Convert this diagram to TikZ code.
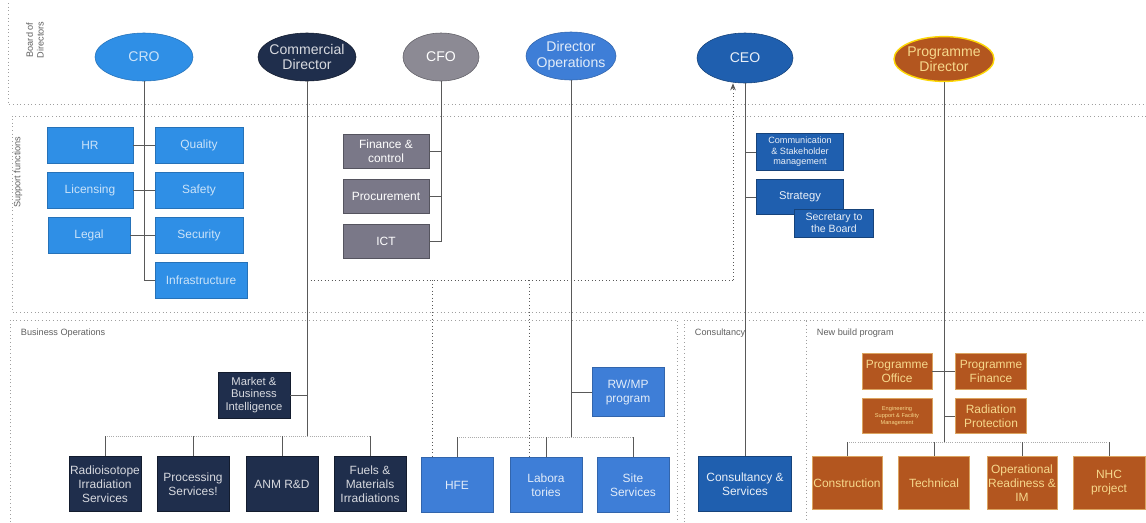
\documentclass[tikz,border=0pt]{standalone}
\usepackage{fontspec}
\setmainfont{Liberation Sans}
\usetikzlibrary{shapes.geometric, arrows.meta}
\definecolor{skyblue}{HTML}{2F8FE6}
\definecolor{navy}{HTML}{1F2E4C}
\definecolor{slate}{HTML}{8C8A94}
\definecolor{slatebox}{HTML}{7A7888}
\definecolor{opsblue}{HTML}{3E7ED7}
\definecolor{ceoblue}{HTML}{1F5FAF}
\definecolor{rust}{HTML}{B3561F}
\definecolor{rustink}{HTML}{F6D88C}
\tikzset{lead/.style = {draw, ellipse, inner xsep = -6pt, inner ysep = -2pt, minimum width = 2.45cm, minimum height = 1.2cm, align = center, font = \fontsize{10}{11}\selectfont}}
\tikzset{unit/.style = {draw, rectangle, inner sep = 0, minimum width = 1.8cm, minimum height = 1.37cm, align = center, font = \fontsize{8.5}{10}\selectfont}}
\tikzset{staff/.style = {unit, minimum width = 2.15cm, minimum height = 0.9cm}}
\tikzset{sky/.style = {fill = skyblue, draw = skyblue!80!black, text = skyblue!25!white}}
\tikzset{dark/.style = {fill = navy, draw = navy!60!black, text = navy!18!white}}
\tikzset{grey/.style = {fill = slatebox, draw = slatebox!70!black, text = white}}
\tikzset{ops/.style = {fill = opsblue, draw = opsblue!80!black, text = opsblue!15!white}}
\tikzset{exec/.style = {fill = ceoblue, draw = ceoblue!70!black, text = ceoblue!10!white}}
\tikzset{rustbox/.style = {fill = rust, draw = rustink!60!rust, text = rustink}}
\tikzset{wire/.style = {draw = black!65, line width = 0.5}}
\tikzset{bus/.style = {draw = gray!65, line width = 0.5, densely dotted}}
\tikzset{frame/.style = {draw = gray!75, line width = 0.6, dotted}}
\tikzset{tag/.style = {text = gray!75!black, font = \fontsize{6.5}{7.5}\selectfont}}

\begin{document}
\begin{tikzpicture}[x = 0.025cm, y = -0.025cm]
    \path [use as bounding box, fill = white] (0, 0) rectangle (1146, 522);

    \draw [frame] (8, 3) -- (8, 104) -- (1146, 104);
    \draw [frame] (1146, 116) -- (12, 116) -- (12, 312) -- (1146, 312);
    \draw [frame] (10, 522) -- (10, 320) -- (677, 320) -- (677, 522);
    \draw [frame] (684, 522) -- (684, 320) -- (806, 320) -- (806, 522);
    \draw [frame] (806, 320) -- (1146, 320);

    \node [tag, rotate = 90, align = center] (boardtag) at (35, 40) {Board of\\Directors};
    \node [tag, rotate = 90] (supporttag) at (18, 172) {Support functions};
    \node [tag, anchor = west] (opstag) at (16, 333) {Business Operations};
    \node [tag, anchor = west] (consulttag) at (690, 333) {Consultancy};
    \node [tag, anchor = west] (buildtag) at (812, 333) {New build program};

    \node [lead, sky] (cro) at (144, 57) {CRO};
    \node [lead, dark] (comdir) at (307, 57) {Commercial\\Director};
    \node [lead, fill = slate, draw = slate!70!black, text = white, minimum width = 1.9cm] (cfo) at (441, 57) {CFO};
    \node [lead, ops, minimum width = 2.25cm] (dirops) at (571, 56) {Director\\Operations};
    \node [lead, exec, minimum width = 2.4cm, minimum height = 1.25cm] (ceo) at (745, 58) {CEO};
    \node [lead, fill = rust, draw = yellow!75!orange, line width = 1, text = rustink, minimum width = 2.5cm, minimum height = 1.12cm] (progdir) at (944, 59) {Programme\\Director};

    \node [staff, sky] (hr) at (90, 145) {HR};
    \node [staff, sky] (lic) at (90, 190) {Licensing};
    \node [staff, sky, minimum width = 2.05cm] (legal) at (89, 235) {Legal};
    \node [staff, sky, minimum width = 2.2cm] (quality) at (199, 145) {Quality};
    \node [staff, sky, minimum width = 2.2cm] (safety) at (199, 190) {Safety};
    \node [staff, sky, minimum width = 2.2cm] (security) at (199, 235) {Security};
    \node [staff, sky, minimum width = 2.3cm] (infra) at (201, 280) {Infrastructure};

    \node [staff, grey, minimum height = 0.85cm] (fin) at (386, 151) {Finance \&\\control};
    \node [staff, grey, minimum height = 0.85cm] (proc) at (386, 196) {Procurement};
    \node [staff, grey, minimum height = 0.85cm] (ict) at (386, 241) {ICT};

    \node [staff, exec, minimum width = 2.18cm, minimum height = 0.93cm, font = \fontsize{6.5}{7.5}\selectfont] (comm) at (800, 152) {Communication\\\& Stakeholder\\management};
    \node [staff, exec, minimum width = 2.18cm, minimum height = 0.88cm, font = \fontsize{8}{9}\selectfont] (strat) at (800, 197) {Strategy};
    \node [staff, exec, minimum width = 1.98cm, minimum height = 0.7cm, font = \fontsize{7.5}{8.5}\selectfont] (secr) at (834, 223) {Secretary to\\the Board};

    \node [unit, dark, minimum height = 1.15cm, font = \fontsize{8}{9}\selectfont] (market) at (254, 395) {Market \&\\Business\\Intelligence};
    \node [unit, dark] (radio) at (105, 484) {Radioisotope\\Irradiation\\Services};
    \node [unit, dark] (procsv) at (193, 484) {Processing\\Services!};
    \node [unit, dark] (anm) at (282, 484) {ANM R\&D};
    \node [unit, dark] (fuels) at (370, 484) {Fuels \&\\Materials\\Irradiations};

    \node [unit, ops, minimum height = 1.22cm] (rwmp) at (628, 392) {RW/MP\\program};
    \node [unit, ops] (hfe) at (457, 485) {HFE};
    \node [unit, ops] (labs) at (546, 485) {Labora\\tories};
    \node [unit, ops] (site) at (633, 485) {Site\\Services};

    \node [unit, exec, minimum width = 2.33cm] (consult) at (745, 484) {Consultancy \&\\Services};

    \node [unit, rustbox, minimum width = 1.75cm, minimum height = 0.9cm] (pgoffice) at (897, 371) {Programme\\Office};
    \node [unit, rustbox, minimum width = 1.78cm, minimum height = 0.9cm] (pgfinance) at (991, 371) {Programme\\Finance};
    \node [unit, rustbox, minimum width = 1.75cm, minimum height = 0.88cm, font = \fontsize{4}{4.8}\selectfont] (safeguard) at (897, 416) {Engineering\\Support \& Facility\\Management};
    \node [unit, rustbox, minimum width = 1.78cm, minimum height = 0.88cm] (radprot) at (991, 416) {Radiation\\Protection};
    \node [unit, rustbox, minimum width = 1.75cm, minimum height = 1.33cm] (constr) at (847, 483) {Construction};
    \node [unit, rustbox, minimum width = 1.78cm, minimum height = 1.33cm] (tech) at (934, 483) {Technical};
    \node [unit, rustbox, minimum width = 1.75cm, minimum height = 1.33cm] (opread) at (1022, 483) {Operational\\Readiness \&\\IM};
    \node [unit, rustbox, minimum width = 1.8cm, minimum height = 1.33cm] (nhc) at (1109, 483) {NHC\\project};

    \coordinate (crofoot) at (144, 280);
    \draw [wire] (cro.south) -- (crofoot) -- (infra.west);
    \draw [wire] (hr.east) -- (quality.west);
    \draw [wire] (lic.east) -- (safety.west);
    \draw [wire] (legal.east) -- (security.west);

    \coordinate (cfofoot) at (441, 241);
    \draw [wire] (cfo.south) -- (cfofoot) -- (ict.east);
    \draw [wire] (fin.east) -- (fin.east -| cfofoot);
    \draw [wire] (proc.east) -- (proc.east -| cfofoot);

    \coordinate (cbus) at (307, 436);
    \draw [wire] (comdir.south) -- (cbus);
    \draw [wire] (market.east) -- (market.east -| cbus);
    \draw [bus] (radio.north |- cbus) -- (fuels.north |- cbus);
    \foreach \u in {radio, procsv, anm, fuels}
        \draw [wire] (\u.north) -- (\u.north |- cbus);

    \coordinate (obus) at (571, 437);
    \draw [wire] (dirops.south) -- (obus);
    \draw [wire] (rwmp.west) -- (rwmp.west -| obus);
    \draw [bus] (hfe.north |- obus) -- (site.north |- obus);
    \foreach \u in {hfe, labs, site}
        \draw [wire] (\u.north) -- (\u.north |- obus);

    \coordinate (hub) at (733, 280);
    \coordinate (comtap) at (307, 280);
    \coordinate (hfetap) at (432, 280);
    \coordinate (labtap) at (529, 280);
    \draw [wire, dotted] (comtap) -- (hub);
    \draw [wire, dotted, -{Stealth[length = 5pt, width = 4pt]}] (hub) -- (hub |- ceo.south);
    \draw [wire, dotted] (hfetap) -- (hfetap |- hfe.north);
    \draw [wire, dotted] (labtap) -- (labtap |- labs.north);

    \draw [wire] (ceo.south) -- (consult.north);
    \draw [wire] (comm.west) -- (comm.west -| ceo.south);
    \draw [wire] (strat.west) -- (strat.west -| ceo.south);

    \coordinate (pbus) at (944, 442);
    \draw [wire] (progdir.south) -- (pbus);
    \draw [wire] (pgoffice.east) -- (pgfinance.west);
    \draw [wire] (radprot.west) -- (radprot.west -| pbus);
    \draw [bus] (constr.north |- pbus) -- (nhc.north |- pbus);
    \foreach \u in {constr, tech, opread, nhc}
        \draw [wire] (\u.north) -- (\u.north |- pbus);
\end{tikzpicture}
\end{document}
